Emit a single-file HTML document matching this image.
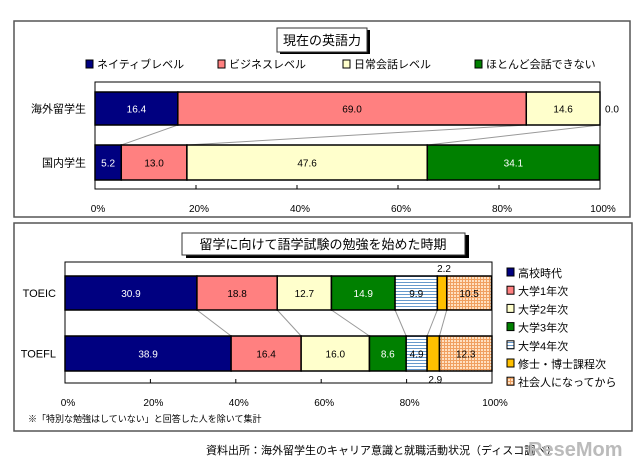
<!DOCTYPE html>
<html><head><meta charset="utf-8">
<style>
body{margin:0;background:#fff;width:640px;height:465px;overflow:hidden;font-family:"Liberation Sans","Noto Sans CJK JP",sans-serif;}
svg text{font-family:"Liberation Sans","Noto Sans CJK JP",sans-serif;}
</style></head>
<body>
<svg id="c" width="640" height="465" xmlns="http://www.w3.org/2000/svg">
<defs>
<pattern id="hstripe" width="4" height="3" patternUnits="userSpaceOnUse"><rect width="4" height="3" fill="#fff"/><rect width="4" height="1" fill="#6699cc"/></pattern>
<pattern id="grid" width="3" height="3" patternUnits="userSpaceOnUse"><rect width="3" height="3" fill="#ffe0c0"/><rect width="3" height="1" fill="#f0a060"/><rect width="1" height="3" fill="#f0a060"/></pattern>
</defs>
<rect x="14" y="21" width="616" height="196" fill="#fff" stroke="#555" stroke-width="1.5"/>
<rect x="14" y="223" width="618" height="208" fill="#fff" stroke="#555" stroke-width="1.5"/>
<rect x="280" y="30" width="90" height="24" fill="#000"/>
<rect x="277" y="28" width="90" height="24" fill="#fff" stroke="#333"/>
<text x="322" y="45" font-size="13" text-anchor="middle">現在の英語力</text>
<rect x="186" y="235" width="283" height="23" fill="#000"/>
<rect x="182" y="233" width="283" height="22" fill="#fff" stroke="#333"/>
<text x="323" y="249" font-size="13" text-anchor="middle">留学に向けて語学試験の勉強を始めた時期</text>
<text x="206" y="454" font-size="11">資料出所：海外留学生のキャリア意識と就職活動状況（ディスコ調べ）</text>
<text x="528" y="456" font-size="20" font-weight="bold" fill="#bbb">ReseMom</text>
<text x="28" y="422" font-size="9">※「特別な勉強はしていない」と回答した人を除いて集計</text>
</svg>
<script>
const topCats=["海外留学生","国内学生"];
const topSeries=["ネイティブレベル","ビジネスレベル","日常会話レベル","ほとんど会話できない"];
const topVals=[[16.4,69.0,14.6,0.0],[5.2,13.0,47.6,34.1]];
const botCats=["TOEIC","TOEFL"];
const botSeries=["高校時代","大学1年次","大学2年次","大学3年次","大学4年次","修士・博士課程次","社会人になってから"];
const botVals=[[30.9,18.8,12.7,14.9,9.9,2.2,10.5],[38.9,16.4,16.0,8.6,4.9,2.9,12.3]];
const ticks=["0%","20%","40%","60%","80%","100%"];
const tickVals=[0,20,40,60,80,100];

const svg=document.getElementById('c');
const NS="http://www.w3.org/2000/svg";
function mk(tag,attrs,parent){const e=document.createElementNS(NS,tag);for(const k in attrs)e.setAttribute(k,attrs[k]);(parent||svg).appendChild(e);return e;}

function drawChart(cfg){
  const {x0,x1,top,bottom,bars,cats,series,vals,fills,textCols,prefix,labelX,tickLabelY}=cfg;
  const xs=v=>x0+(x1-x0)*v/100;
  let f=mk('rect',{x:x0,y:top,width:x1-x0,height:bottom-top,fill:'#fff',stroke:'#000','stroke-width':1});
  
  
  const cum=vals.map(r=>{let s=0;return r.map(v=>(s+=v));});
  for(let i=0;i<cum[0].length-1;i++){
    const l=mk('line',{x1:xs(cum[0][i]),y1:bars[0][1],x2:xs(cum[1][i]),y2:bars[1][0],stroke:'#999','stroke-width':1});
    
    
  }
  vals.forEach((row,r)=>{
    let s=0;
    const [y0,y1]=bars[r];
    row.forEach((v,i)=>{
      const a=xs(s),b=xs(s+v);s+=v;
      if(v>0){
        const rc=mk('rect',{x:a,y:y0,width:b-a,height:y1-y0,fill:fills[i],stroke:'#000','stroke-width':1.5});
        
        
      }
      let tx=(a+b)/2,ty=(y0+y1)/2+4;
      if(cfg.special){const sp=cfg.special(r,i,v,a,b,y0,y1);if(sp){tx=sp[0];ty=sp[1];}}
      const t=mk('text',{x:tx,y:ty,'font-size':10,'text-anchor':'middle',fill:textCols[i]});
      t.textContent=v.toFixed(1);
      
      
    });
    const cl=mk('text',{x:labelX,y:(y0+y1)/2+4,'font-size':11,'text-anchor':'end'});
    cl.textContent=cats[r];
    
    
  });
  tickVals.forEach((tv,i)=>{
    const tm=mk('line',{x1:xs(tv),y1:bottom,x2:xs(tv),y2:bottom-4,stroke:'#000'});
    
    
    const tl=mk('text',{x:xs(tv)+3,y:tickLabelY,'font-size':10,'text-anchor':'middle'});
    tl.textContent=ticks[i];
    
    
  });
}

const topFills=['#000080','#ff8080','#ffffcc','#008000'];
drawChart({x0:95,x1:600,top:82,bottom:189,bars:[[92,125],[145,180]],cats:topCats,series:topSeries,vals:topVals,
  fills:topFills,textCols:['#fff','#000','#000','#fff'],prefix:'top',labelX:86,tickLabelY:212,
  special:(r,i,v,a,b,y0,y1)=>(v===0?[612,(y0+y1)/2+4]:null)});
// ensure zero-value label color is dark
svg.querySelectorAll('text').forEach(t=>{if(t.getAttribute('x')==='612')t.setAttribute('fill','#000');});
topSeries.forEach((s,i)=>{
  const xs=[86,218,343,475][i];
  const m=mk('rect',{x:xs,y:60,width:7,height:8,fill:topFills[i],stroke:'#000'});
  
  
  const t=mk('text',{x:xs+11,y:68,'font-size':11});
  t.textContent=s;
  
  
});

const botFills=['#000080','#ff8080','#ffffcc','#008000','url(#hstripe)','#ffc000','url(#grid)'];
drawChart({x0:65,x1:492,top:262,bottom:383,bars:[[276,310],[336,371]],cats:botCats,series:botSeries,vals:botVals,
  fills:botFills,textCols:['#fff','#000','#000','#fff','#000','#000','#000'],prefix:'bottom',labelX:56,tickLabelY:406,
  special:(r,i,v,a,b,y0,y1)=>(i===5?[(a+b)/2+2,r===0?y0-4:y1+12]:null)});
botSeries.forEach((s,i)=>{
  const y=273+i*18.2;
  const m=mk('rect',{x:507,y:y-5,width:7,height:8,fill:botFills[i],stroke:'#000'});
  
  
  const t=mk('text',{x:518,y:y+4,'font-size':11});
  t.textContent=s;
  
  
});
</script>
</body></html>
